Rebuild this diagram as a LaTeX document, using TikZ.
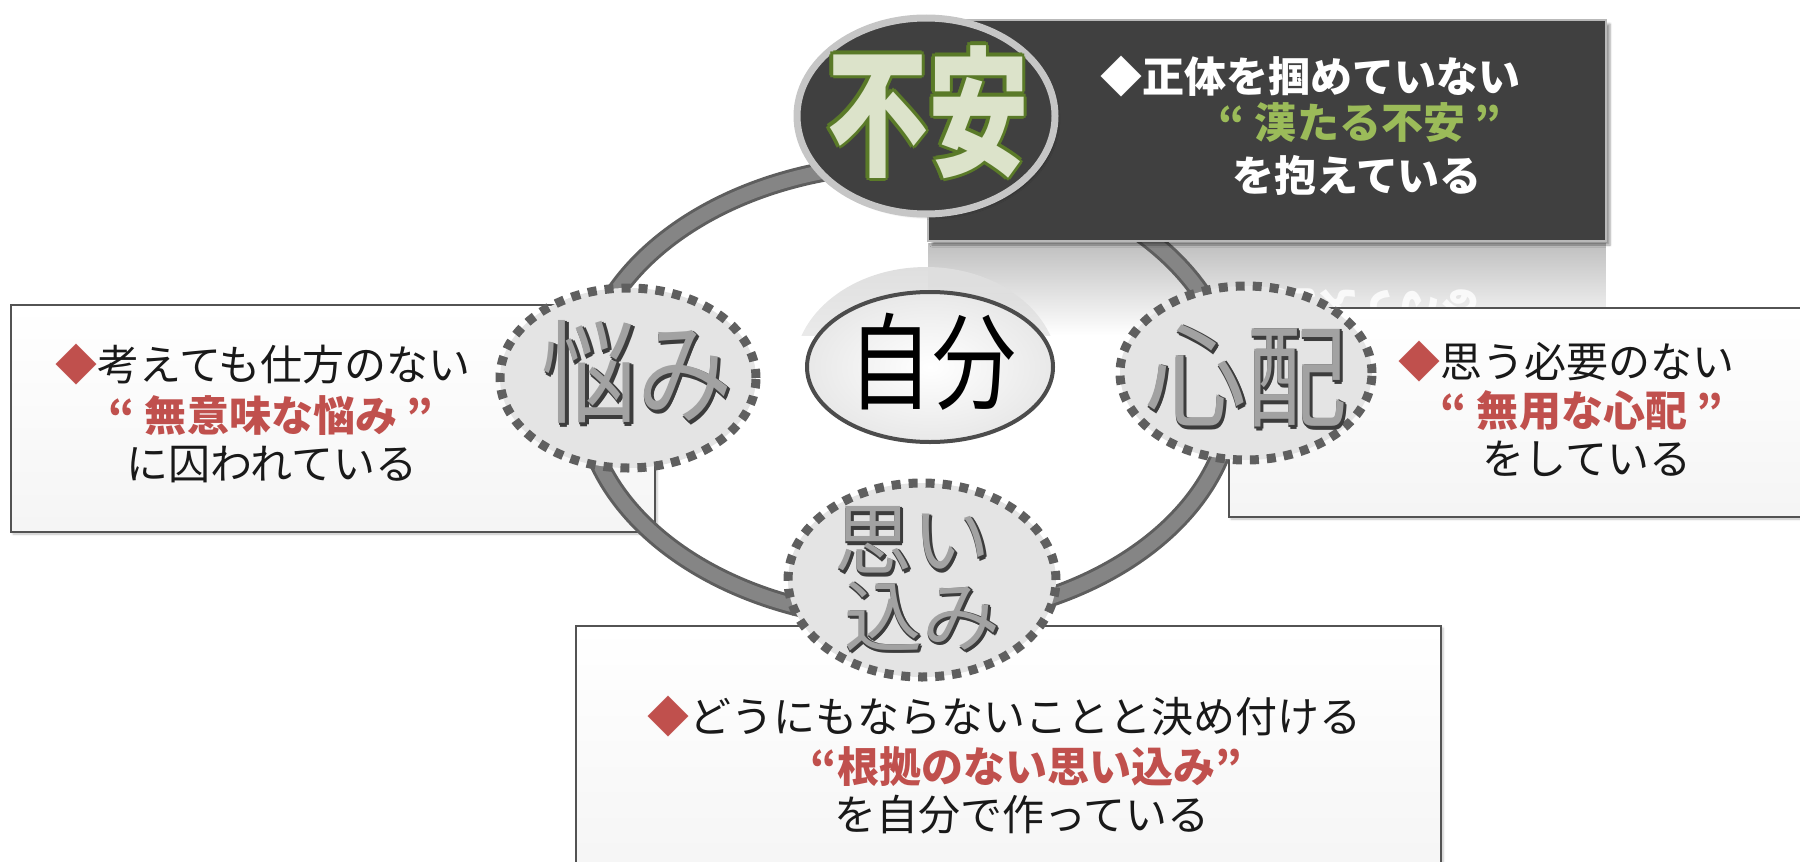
\documentclass[tikz,border=0pt]{standalone}
\usepackage{fontspec}
\setmainfont{Noto Sans CJK JP}
\usetikzlibrary{shapes.geometric,shadows.blur,fadings,calc}
\definecolor{accred}{HTML}{C0504D}
\definecolor{accgreen}{HTML}{9BBB59}
\definecolor{darkbox}{HTML}{404040}
\definecolor{dashgray}{HTML}{5F5F5F}
\definecolor{circfill}{HTML}{E4E4E4}
\definecolor{ringedge}{HTML}{5E5E5E}
\definecolor{ringmid}{HTML}{858585}
\definecolor{glowgreen}{HTML}{5A7A28}
\definecolor{fuantext}{HTML}{DCE3CA}
\definecolor{chromedark}{HTML}{3C3C3C}
\definecolor{chromefill}{HTML}{A2A2A2}
\tikzfading[name=fadedown, top color=transparent!0, bottom color=transparent!100]
\newcommand{\fs}[1]{\fontsize{#1}{#1}\selectfont}
\begin{document}
\begin{tikzpicture}[x=1pt,y=-1pt,
  txt/.style={font=\fs{42}, inner sep=0pt, anchor=center, text=black!90},
  boldtxt/.style={font=\fs{42}\bfseries, inner sep=0pt, anchor=center},
  infobox/.style={draw=gray!65!black, line width=2.5pt, top color=white, bottom color=gray!8, inner sep=0pt,
    blur shadow={shadow xshift=2pt, shadow yshift=-2pt, shadow opacity=25}},
  dashcirc/.style={ellipse, draw=dashgray, fill=circfill, line width=9pt, dash pattern=on 9pt off 8pt, inner sep=0pt},
  chromeshade/.style={inner sep=0pt, text=chromedark},
  chromemain/.style={inner sep=0pt, text=chromefill},
]
\useasboundingbox (0,0) rectangle (1800,862);

% reflection of the dark box
\fill[gray!50, path fading=fadedown] (928,243) rectangle (1606,335);
\begin{scope}
  \clip (780,243) rectangle (1606,335);
  \fill[gray!25, path fading=fadedown] (926,370) ellipse [x radius=132pt, y radius=103pt];
\end{scope}
\node[boldtxt, text=white, opacity=0.8] (refltext) at (1357,309) {\scalebox{1}[-1]{を抱えている}};

% left box
\node[infobox, minimum width=644pt, minimum height=227pt] (lbox) at (333,418.5) {};

% ring
\coordinate (ringc) at (908,392);
\draw[line width=20pt, ringedge] (ringc) ellipse [x radius=325pt, y radius=228pt];
\draw[line width=14pt, ringmid] (ringc) ellipse [x radius=325pt, y radius=228pt];

% dark box and anxiety circle
\node[draw=gray!55, line width=2.5pt, fill=darkbox, minimum width=678pt, minimum height=221pt, inner sep=0pt,
  blur shadow={shadow xshift=4pt, shadow yshift=-4pt, shadow opacity=40}] (anxbox) at (1267,130.5) {};
\node[ellipse, draw=gray!45, line width=7pt, fill=darkbox, minimum width=258pt, minimum height=196pt, inner sep=0pt,
  blur shadow={shadow xshift=3pt, shadow yshift=-3pt, shadow opacity=30}] (fuan) at (926,116) {};

% right and bottom boxes
\node[infobox, minimum width=590pt, minimum height=209pt] (rbox) at (1524,412.5) {};
\node[infobox, minimum width=865pt, minimum height=260pt] (bbox) at (1008.5,756) {};

% self oval
\node[ellipse, draw=gray!60!black, line width=4pt, inner color=white, outer color=gray!18, minimum width=246pt, minimum height=150pt, inner sep=0pt] (jibun) at (930,367) {};

% dashed circles
\node[dashcirc, minimum width=256pt, minimum height=180pt] (nayami) at (628,378) {};
\node[dashcirc, minimum width=252pt, minimum height=174pt] (shinpai) at (1246,373) {};
\node[dashcirc, minimum width=268pt, minimum height=194pt] (omoi) at (922,580) {};

% label: fuan (glowing outline)
\foreach \a in {0,45,...,315}{
  \node[inner sep=0pt, text=glowgreen, font=\fs{140}\bfseries] (fuan-g\a) at ($(928,112)+(\a:3.5)$) {\scalebox{0.72}[1]{不安}};
}
\node[inner sep=0pt, text=fuantext, font=\fs{140}\bfseries] (fuan-t) at (928,112) {\scalebox{0.72}[1]{不安}};

% label: jibun
\node[inner sep=0pt, text=black, font=\fs{105}] (jibun-t) at (932,362) {\scalebox{0.8}[1]{自分}};

% chrome labels
\foreach \a in {0,90,180,270}{
  \node[chromeshade, font=\fs{112}] (nayami-o\a) at ($(637,372)+(\a:1.6)+(2,2)$) {\scalebox{0.85}[1]{悩み}};
  \node[chromeshade, font=\fs{112}] (shinpai-o\a) at ($(1246,376)+(\a:1.6)+(2,2)$) {\scalebox{0.9}[1]{心配}};
  \node[chromeshade, font=\fs{78}] (omoi1-o\a) at ($(912,540)+(\a:1.4)+(2,2)$) {思い};
  \node[chromeshade, font=\fs{78}] (omoi2-o\a) at ($(922,616)+(\a:1.4)+(2,2)$) {込み};
}
\node[chromemain, font=\fs{112}] (nayami-t) at (637,372) {\scalebox{0.85}[1]{悩み}};
\node[chromemain, font=\fs{112}] (shinpai-t) at (1246,376) {\scalebox{0.9}[1]{心配}};
\node[chromemain, font=\fs{78}] (omoi1-t) at (912,540) {思い};
\node[chromemain, font=\fs{78}] (omoi2-t) at (922,616) {込み};

% top box text
\node[boldtxt, text=white] (t1) at (1310,77) {◆正体を掴めていない};
\node[boldtxt, text=accgreen] (t2) at (1360,123) {“ 漢たる不安 ”};
\node[boldtxt, text=white] (t3) at (1357,175) {を抱えている};

% left box text
\node[txt] (l1) at (263,365) {{\color{accred}◆}考えても仕方のない};
\node[boldtxt, text=accred] (l2) at (271,416) {“ 無意味な悩み ”};
\node[txt] (l3) at (272,465) {に囚われている};

% right box text
\node[txt] (r1) at (1566,362) {{\color{accred}◆}思う必要のない};
\node[boldtxt, text=accred] (r2) at (1582,411) {“ 無用な心配 ”};
\node[txt] (r3) at (1587,459) {をしている};

% bottom box text
\node[txt] (b1) at (1004,717) {{\color{accred}◆}どうにもならないことと決め付ける};
\node[boldtxt, text=accred] (b2) at (1026,767) {“根拠のない思い込み”};
\node[txt] (b3) at (1022,815) {を自分で作っている};
\end{tikzpicture}
\end{document}
